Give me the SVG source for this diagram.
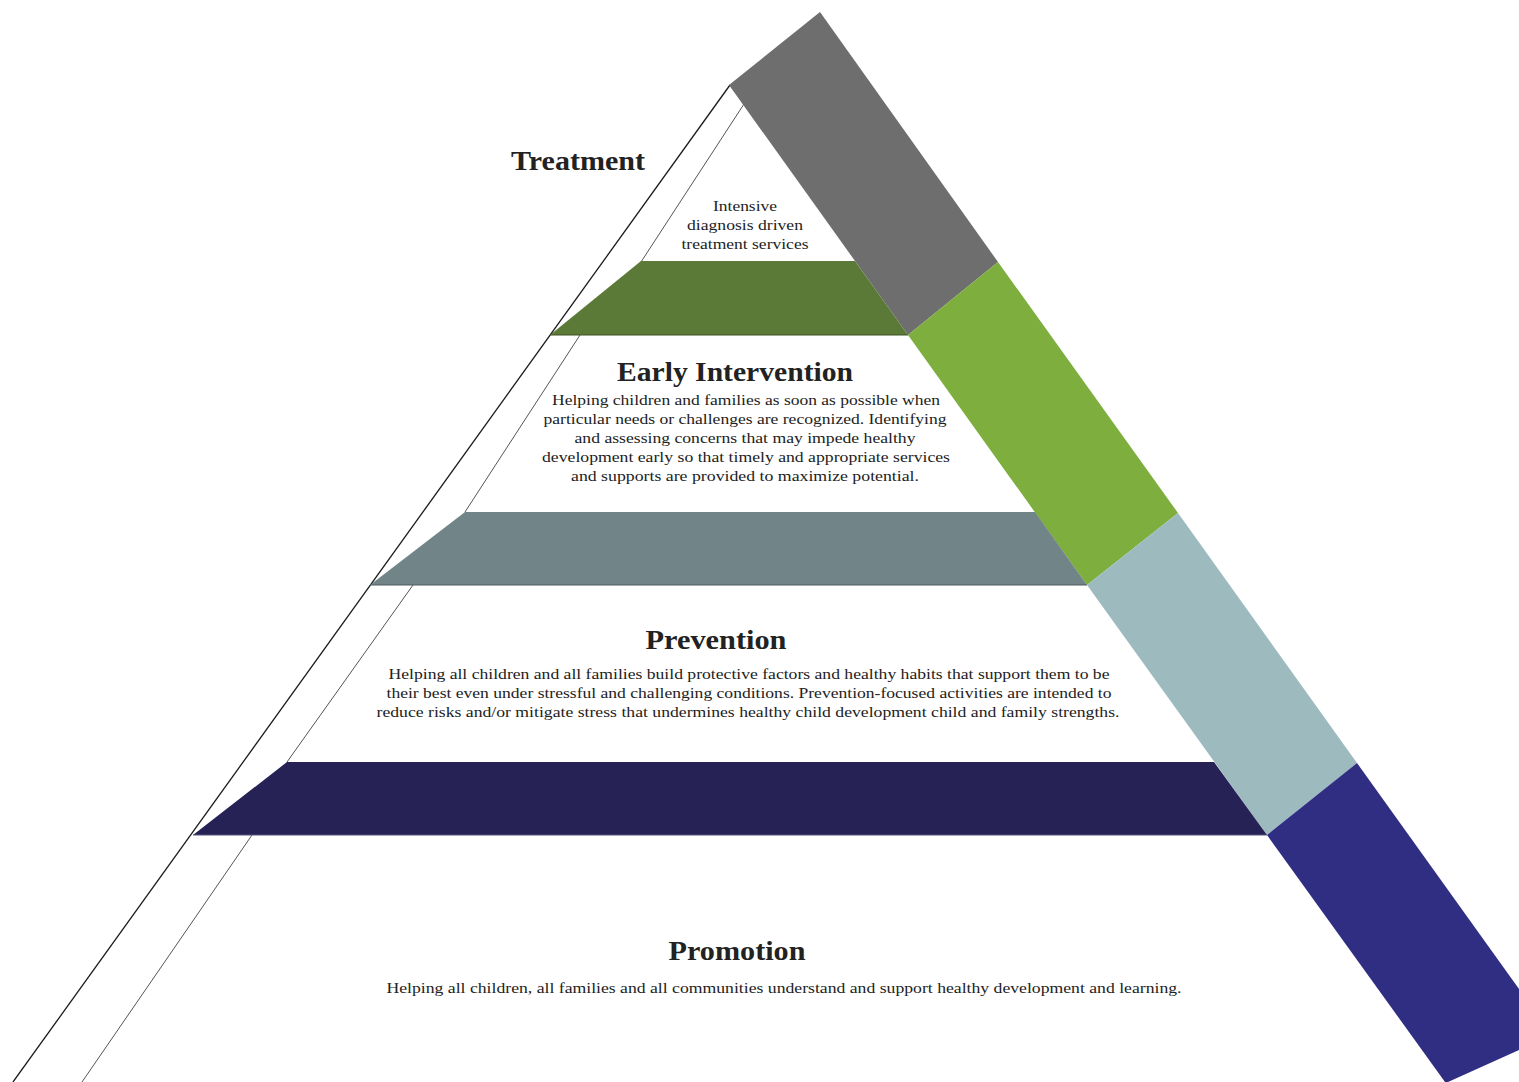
<svg xmlns="http://www.w3.org/2000/svg" width="1519" height="1082" viewBox="0 0 1519 1082">
<style>
.edge{stroke:#1a1a1a;stroke-width:1.3;fill:none}
.inner{stroke:#555;stroke-width:1;fill:none}
.title{font-family:"Liberation Serif","Times New Roman",serif;font-weight:bold;font-size:28px;fill:#222;text-anchor:middle}
.body{font-family:"Liberation Serif","Times New Roman",serif;font-size:15.5px;fill:#222;text-anchor:middle}
</style>
<rect width="1519" height="1082" fill="#ffffff"/>
<g id="outline">
<line class="edge" x1="730" y1="85" x2="13" y2="1082"/>
<line class="inner" x1="744" y1="104" x2="641" y2="262"/>
<line class="inner" x1="580" y1="335" x2="465" y2="512"/>
<line class="inner" x1="413" y1="585" x2="287" y2="762"/>
<line class="inner" x1="252" y1="835" x2="82" y2="1082"/>
</g>
<g id="side-bar">
<polygon points="729,85 820,12 998,262 908,335" fill="#6e6e6e"/>
<polygon points="908,335 998,262 1178,513 1087,585" fill="#7dae3e"/>
<polygon points="1087,585 1178,513 1357,763 1267,835" fill="#9dbbbf"/>
<polygon points="1267,835 1357,763 1519,989 1519,1050 1448,1082 1445,1082" fill="#302e82"/>
</g>
<g id="band-treatment">
<polygon points="641,261 855,261 908,335 550,335" fill="#5c7a37"/>
<line x1="550" y1="335" x2="908" y2="335" stroke="#3f5428" stroke-width="1.2"/>
</g>
<g id="band-early">
<polygon points="465,512 1035,512 1087,585 370,585" fill="#718487"/>
<line x1="370" y1="585" x2="1087" y2="585" stroke="#4e5d5f" stroke-width="1.2"/>
</g>
<g id="band-prevention">
<polygon points="287,762 1214,762 1267,835 193,835" fill="#262256"/>
<line x1="193" y1="835" x2="1267" y2="835" stroke="#55557a" stroke-width="1.2"/>
</g>
<g id="treatment">
<text class="title" x="578" y="170" textLength="134" lengthAdjust="spacingAndGlyphs">Treatment</text>
<text class="body" x="745" y="211" textLength="64" lengthAdjust="spacingAndGlyphs">Intensive</text>
<text class="body" x="745" y="230" textLength="116" lengthAdjust="spacingAndGlyphs">diagnosis driven</text>
<text class="body" x="745" y="249" textLength="127" lengthAdjust="spacingAndGlyphs">treatment services</text>
</g>
<g id="early-intervention">
<text class="title" x="735" y="381" textLength="236" lengthAdjust="spacingAndGlyphs">Early Intervention</text>
<text class="body" x="746" y="405" textLength="388" lengthAdjust="spacingAndGlyphs">Helping children and families as soon as possible when</text>
<text class="body" x="745" y="424" textLength="403" lengthAdjust="spacingAndGlyphs">particular needs or challenges are recognized. Identifying</text>
<text class="body" x="745" y="443" textLength="341" lengthAdjust="spacingAndGlyphs">and assessing concerns that may impede healthy</text>
<text class="body" x="746" y="462" textLength="408" lengthAdjust="spacingAndGlyphs">development early so that timely and appropriate services</text>
<text class="body" x="745" y="481" textLength="348" lengthAdjust="spacingAndGlyphs">and supports are provided to maximize potential.</text>
</g>
<g id="prevention">
<text class="title" x="716" y="649" textLength="141" lengthAdjust="spacingAndGlyphs">Prevention</text>
<text class="body" x="749" y="679" textLength="721" lengthAdjust="spacingAndGlyphs">Helping all children and all families build protective factors and healthy habits that support them to be</text>
<text class="body" x="749" y="698" textLength="725" lengthAdjust="spacingAndGlyphs">their best even under stressful and challenging conditions. Prevention-focused activities are intended to</text>
<text class="body" x="748" y="717" textLength="743" lengthAdjust="spacingAndGlyphs">reduce risks and/or mitigate stress that undermines healthy child development child and family strengths.</text>
</g>
<g id="promotion">
<text class="title" x="737" y="960" textLength="137" lengthAdjust="spacingAndGlyphs">Promotion</text>
<text class="body" x="784" y="993" textLength="795" lengthAdjust="spacingAndGlyphs">Helping all children, all families and all communities understand and support healthy development and learning.</text>
</g>
<g id="connectors"></g>
</svg>
